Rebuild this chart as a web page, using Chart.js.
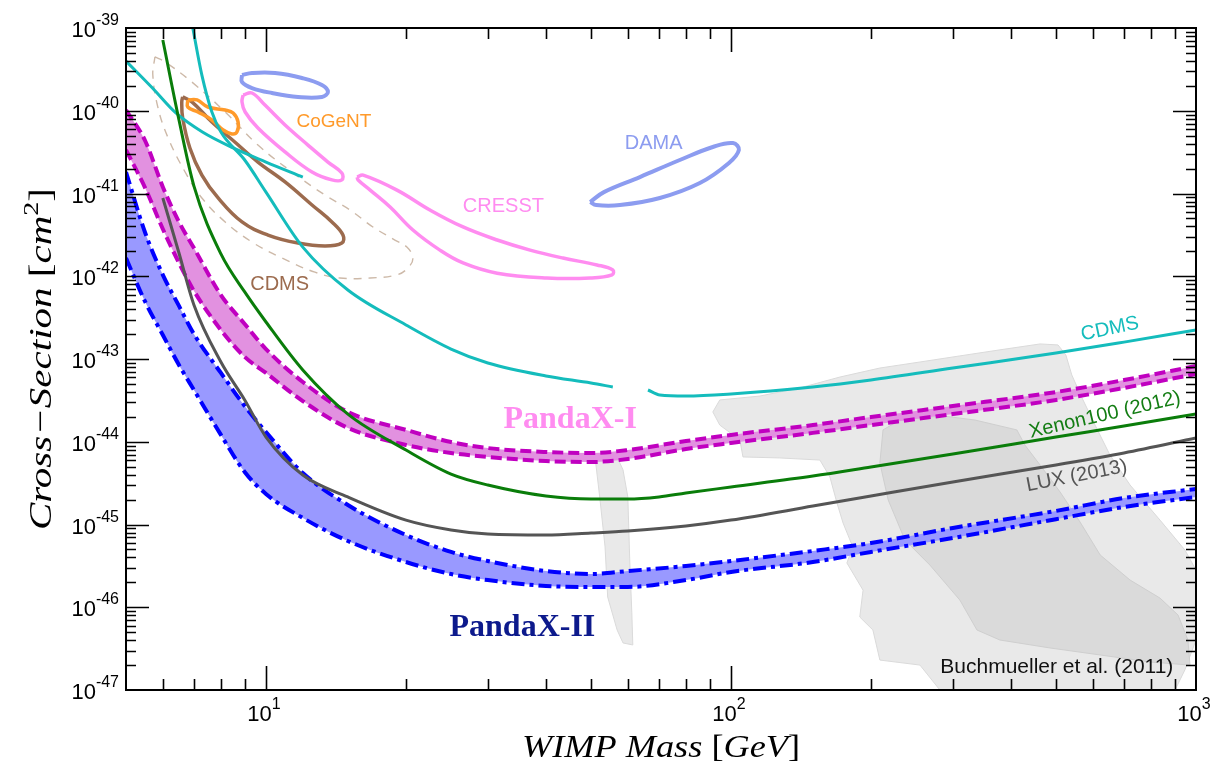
<!DOCTYPE html>
<html>
<head>
<meta charset="utf-8">
<title>PandaX-II WIMP limits</title>
<script src="https://cdn.jsdelivr.net/npm/chart.js@4.4.0/dist/chart.umd.min.js"></script>
<style>
  html, body { margin: 0; padding: 0; background: #fff; }
  canvas { display: block; }
</style>
</head>
<body>
<canvas id="myChart" width="1211" height="765"></canvas>
<script>
// mass grid (GeV) shared by both PandaX bands
var bandMass = [5, 5.5, 6, 6.5, 7, 8, 9, 10, 12, 15, 20, 25, 30, 40, 50, 60, 80, 100, 150, 200, 300, 500, 700, 1000];
var pandax2Upper = [1.82e-41, 3.33e-42, 1.04e-42, 4.38e-43, 2.00e-43, 6.78e-44, 2.70e-44, 1.31e-44, 4.19e-45, 1.72e-45, 7.46e-46, 4.66e-46, 3.62e-46, 2.74e-46, 2.52e-46, 2.74e-46, 3.15e-46, 3.62e-46, 4.79e-46, 5.97e-46, 9.08e-46, 1.46e-45, 2.09e-45, 2.69e-45];
var pandax2Lower = [1.66e-42, 4.89e-43, 1.95e-43, 8.45e-44, 4.22e-44, 1.21e-44, 4.31e-45, 2.34e-45, 1.20e-45, 6.32e-46, 3.52e-46, 2.52e-46, 2.13e-46, 1.81e-46, 1.76e-46, 1.76e-46, 2.13e-46, 2.67e-46, 3.52e-46, 4.66e-46, 6.87e-46, 1.16e-45, 1.63e-45, 2.15e-45];
var pandax1Upper = [1.02e-40, 4.31e-41, 1.20e-41, 4.53e-42, 2.19e-42, 5.93e-43, 2.65e-43, 1.32e-43, 5.27e-44, 2.29e-44, 1.39e-44, 9.93e-45, 8.39e-45, 7.52e-45, 7.31e-45, 7.94e-45, 1.02e-44, 1.21e-44, 1.59e-44, 1.99e-44, 2.70e-44, 3.99e-44, 5.57e-44, 8.22e-44];
var pandax1Lower = [3.36e-41, 1.16e-41, 3.72e-42, 1.45e-42, 6.64e-43, 2.24e-43, 1.06e-43, 6.78e-44, 3.10e-44, 1.47e-44, 9.14e-45, 7.31e-45, 6.55e-45, 5.85e-45, 5.69e-45, 6.19e-45, 8.17e-45, 9.66e-45, 1.28e-44, 1.59e-44, 2.16e-44, 3.20e-44, 4.47e-44, 6.59e-44];

// other experiments
var xenonMass = [6, 6.5, 7, 8, 9, 10, 12, 15, 20, 25, 30, 40, 50, 60, 70, 80, 100, 150, 200, 300, 500, 700, 1000];
var xenonSigma = [7.16e-40, 7.73e-41, 1.23e-41, 1.86e-42, 6.46e-43, 2.80e-43, 7.36e-44, 2.16e-44, 7.94e-45, 4.07e-45, 3.00e-45, 2.21e-45, 2.03e-45, 2.03e-45, 2.15e-45, 2.40e-45, 2.84e-45, 3.85e-45, 4.95e-45, 7.11e-45, 1.14e-44, 1.55e-44, 2.16e-44];
var luxMass = [6, 6.5, 7, 8, 9, 10, 12, 15, 20, 25, 30, 40, 50, 60, 80, 100, 150, 200, 300, 500, 700, 1000];
var luxSigma = [8.83e-42, 1.91e-42, 4.50e-43, 9.20e-44, 3.20e-44, 1.14e-44, 3.96e-45, 2.15e-45, 1.13e-45, 8.59e-46, 7.67e-46, 7.46e-46, 7.89e-46, 8.34e-46, 9.59e-46, 1.13e-45, 1.67e-45, 2.21e-45, 3.27e-45, 5.24e-45, 7.31e-45, 1.11e-44];
var cdmsMass = [6.96, 7.28, 7.65, 8, 9, 10, 12, 15, 20, 25, 30, 40, 50, 55.7, 60, 66.3, 70.3, 80, 100, 150, 200, 300, 500, 700, 1000];
var cdmsSigma = [1.0e-39, 2.70e-40, 9.66e-41, 5.53e-41, 2.54e-41, 1.04e-41, 2.25e-42, 6.82e-43, 2.58e-43, 1.32e-43, 8.95e-44, 6.24e-44, 5.13e-44, 4.59e-44, null, 4.22e-44, 3.67e-44, 3.57e-44, 3.78e-44, 4.59e-44, 5.57e-44, 7.78e-44, 1.18e-43, 1.60e-43, 2.24e-43];
var cdmsLowMass = [5, 5.7, 6.4, 7.3, 8.5, 10, 12];
var cdmsLowSigma = [3.99e-40, 1.88e-40, 9.4e-41, 5.53e-41, 3.55e-41, 2.40e-41, 1.58e-41];

// signal regions (closed contours)
var cdmsSiMass = [6.62, 6.93, 7.65, 8.57, 9.61, 10.99, 12.56, 13.86, 14.64, 14.56, 13.39, 11.72, 10.10, 8.88, 7.89, 7.28, 6.86, 6.62, 6.59, 6.62];
var cdmsSiSigma = [1.47e-40, 1.28e-40, 7.31e-41, 4.19e-41, 2.40e-41, 1.38e-41, 7.26e-42, 4.53e-42, 3.15e-42, 2.52e-42, 2.32e-42, 2.52e-42, 3.15e-42, 4.53e-42, 8.83e-42, 1.67e-41, 3.55e-41, 8.17e-41, 1.28e-40, 1.47e-40];
var cdms90Mass = [5.77, 6.07, 6.93, 8.17, 9.61, 11.37, 13.39, 15.16, 16.98, 18.93, 20.09, 20.70, 20.19, 19.13, 16.75, 14.42, 12.74, 10.82, 9.33, 8.17, 7.28, 6.70, 6.16, 5.86, 5.71, 5.77];
var cdms90Sigma = [4.47e-40, 3.88e-40, 2.22e-40, 9.66e-41, 3.85e-41, 1.82e-41, 9.59e-42, 6.32e-42, 3.94e-42, 2.74e-42, 2.25e-42, 1.66e-42, 1.26e-42, 1.04e-42, 9.53e-43, 9.53e-43, 1.12e-42, 1.66e-42, 2.59e-42, 4.53e-42, 8.83e-42, 1.82e-41, 4.69e-41, 1.08e-40, 2.70e-40, 4.47e-40];
var cogentMass = [6.79, 7.11, 7.50, 8.17, 8.50, 8.71, 8.66, 8.45, 8.09, 7.65, 7.14, 6.79, 6.79];
var cogentSigma = [1.35e-40, 1.35e-40, 1.11e-40, 1.02e-40, 9.40e-41, 7.31e-41, 5.53e-41, 5.24e-41, 5.85e-41, 7.73e-41, 9.66e-41, 1.11e-40, 1.35e-40];
var damaNaMass = [8.88, 9.33, 10.46, 11.95, 13.19, 13.59, 13.19, 11.72, 10.30, 9.33, 8.88, 8.88];
var damaNaSigma = [2.70e-40, 2.86e-40, 2.86e-40, 2.49e-40, 2.05e-40, 1.69e-40, 1.47e-40, 1.47e-40, 1.64e-40, 1.88e-40, 2.22e-40, 2.70e-40];
var damaIMass = [49.8, 53.3, 63.7, 77.6, 91.4, 101.0, 104.0, 99.0, 85.7, 70.3, 57.7, 51.3, 49.8];
var damaISigma = [7.89e-42, 1.04e-41, 1.58e-41, 2.54e-41, 3.65e-41, 4.07e-41, 3.36e-41, 2.34e-41, 1.34e-41, 8.83e-42, 7.26e-42, 7.26e-42, 7.89e-42];
var cresst1Mass = [8.93, 9.33, 9.95, 10.99, 12.31, 13.59, 14.56, 14.56, 13.86, 12.56, 10.99, 9.61, 9.02, 8.88, 8.93];
var cresst1Sigma = [1.55e-40, 1.64e-40, 1.17e-40, 6.73e-41, 3.85e-41, 2.40e-41, 1.77e-41, 1.46e-41, 1.46e-41, 1.82e-41, 3.18e-41, 6.19e-41, 9.66e-41, 1.28e-40, 1.55e-40];
var cresst2Mass = [15.70, 16.18, 19.13, 22.52, 26.53, 31.42, 36.98, 43.52, 51.5, 55.7, 55.5, 49.8, 40.19, 31.42, 26.53, 23.66, 20.70, 18.49, 16.75, 15.78, 15.70];
var cresst2Sigma = [1.58e-41, 1.67e-41, 1.10e-41, 6.32e-42, 3.94e-42, 2.74e-42, 2.07e-42, 1.66e-42, 1.37e-42, 1.19e-42, 1.04e-42, 9.53e-43, 9.53e-43, 1.09e-42, 1.45e-42, 2.07e-42, 3.62e-42, 6.87e-42, 1.10e-41, 1.46e-41, 1.58e-41];

// CMSSM regions, Buchmueller et al. (2011)
var susyMass = [91.4, 94.6, 115.4, 140.6, 171.4, 209.0, 254.9, 310.6, 378.6, 462.0, 504.9, 525.0, 540.6, 568.9, 606.7, 653.1, 721.5, 836.8, 946.5, 1000, 1000, 946.5, 901.5, 281.3, 254.9, 209.0, 201.9, 189.2, 192.3, 177.5, 182.8, 174.2, 169.0, 163.2, 155.3, 127.4, 106.1, 104.5, 94.6, 91.4];
var susySigma = [2.29e-44, 3.20e-44, 3.57e-44, 4.47e-44, 6.05e-44, 7.78e-44, 9.20e-44, 1.09e-43, 1.29e-43, 1.52e-43, 1.48e-43, 1.12e-43, 6.41e-44, 3.38e-44, 1.59e-44, 6.92e-45, 3.00e-45, 1.13e-45, 4.92e-46, 2.82e-46, 4.02e-47, 1.75e-47, 1.0e-47, 1.0e-47, 2.00e-47, 2.30e-47, 5.31e-47, 7.62e-47, 1.61e-46, 3.43e-46, 5.35e-46, 1.04e-45, 1.82e-45, 3.75e-45, 6.01e-45, 6.37e-45, 6.55e-45, 1.05e-44, 1.59e-44, 2.29e-44];
var susyCoreMass = [212.3, 230.7, 285.6, 334.8, 411.9, 428.5, 462.0, 510.2, 563.3, 622.3, 721.5, 836.8, 914.9, 960.8, 970.8, 796.2, 622.3, 485.5, 378.6, 338.0, 310.6, 267.7, 236.6, 217.8, 209.0, 212.3];
var susyCoreSigma = [1.39e-44, 1.83e-44, 2.05e-44, 1.83e-44, 1.39e-44, 9.14e-45, 5.24e-45, 2.47e-45, 1.07e-45, 4.28e-46, 2.13e-46, 1.29e-46, 8.05e-47, 4.02e-47, 2.00e-47, 2.18e-47, 2.65e-47, 3.22e-47, 4.02e-47, 5.31e-47, 1.22e-46, 3.24e-46, 6.50e-46, 1.98e-45, 5.53e-45, 1.39e-44];
var susyStripMass = [51.0, 52.2, 53.6, 54.3, 56.9, 58.6, 61.5, 61.2, 60.6, 60.0, 58.6, 56.9, 51.0];
var susyStripSigma = [6.55e-45, 2.15e-45, 5.35e-46, 1.33e-46, 5.31e-47, 3.70e-47, 3.50e-47, 8.53e-47, 3.43e-46, 2.15e-45, 4.56e-45, 6.55e-45, 6.55e-45];

// axis tick labels (powers of ten)
var massExponents = [1, 2, 3];
var sigmaExponents = [-39, -40, -41, -42, -43, -44, -45, -46, -47];

var notes = [
    {text: 'CoGeNT', m: 14.0, s: 7.31e-41, color: '#ff9a2a', font: '19px "Liberation Sans"', rot: 0},
    {text: 'DAMA', m: 68.2, s: 4.07e-41, color: '#8c9cf0', font: '20px "Liberation Sans"', rot: 0},
    {text: 'CRESST', m: 32.4, s: 7.06e-42, color: '#ff8cf0', font: '20px "Liberation Sans"', rot: 0},
    {text: 'CDMS', m: 10.7, s: 8.05e-43, color: '#9c6b4e', font: '20px "Liberation Sans"', rot: 0},
    {text: 'CDMS', m: 653, s: 2.31e-43, color: '#14bcbc', font: '20px "Liberation Sans"', rot: -12},
    {text: 'PandaX-I', m: 45.1, s: 1.83e-44, color: '#ff8cf0', font: 'bold 32px "Liberation Serif"', rot: 0},
    {text: 'Xenon100 (2012)', m: 637, s: 2.10e-44, color: '#137d13', font: '20px "Liberation Sans"', rot: -13},
    {text: 'LUX (2013)', m: 554, s: 3.85e-45, color: '#555555', font: '20px "Liberation Sans"', rot: -11},
    {text: 'PandaX-II', m: 35.6, s: 5.61e-47, color: '#0d1a8c', font: 'bold 32px "Liberation Serif"', rot: 0},
    {text: 'Buchmueller et al. (2011)', m: 502, s: 1.90e-47, color: '#111111', font: '21px "Liberation Sans"', rot: 0}
];

function pts(ms, ss){
    var out = [];
    for (var i = 0; i < ms.length; i++) {
        out.push({x: ms[i], y: ss[i]});
    }
    return out;
}

function lineSet(label, ms, ss, color, width, dash, order){
    return {
        label: label, data: pts(ms, ss), showLine: true,
        borderColor: color, borderWidth: width, borderDash: dash || [],
        fill: false, pointRadius: 0, order: order,
        cubicInterpolationMode: 'monotone'
    };
}

function loopSet(label, ms, ss, color, width, dash, order){
    return {
        label: label, data: pts(ms, ss), showLine: true,
        borderColor: color, borderWidth: width, borderDash: dash || [],
        borderJoinStyle: 'round', fill: false, pointRadius: 0, order: order,
        tension: 0.4
    };
}

function regionSet(label, ms, ss, fillColor, lineColor, order){
    return {
        label: label, data: pts(ms, ss), showLine: true,
        borderColor: lineColor, borderWidth: 1, backgroundColor: fillColor,
        fill: 'shape', pointRadius: 0, order: order, tension: 0
    };
}

var p2up = lineSet('PandaX-II', bandMass, pandax2Upper, '#0000ff', 4, [13, 5, 4, 5], 40);
var p2lo = lineSet('PandaX-II low', bandMass, pandax2Lower, '#0000ff', 4, [13, 5, 4, 5], 41);
p2lo.fill = '-1';
p2lo.backgroundColor = '#9999ff';
var p1up = lineSet('PandaX-I', bandMass, pandax1Upper, '#c000c0', 4, [11, 5], 30);
var p1lo = lineSet('PandaX-I low', bandMass, pandax1Lower, '#c000c0', 4, [11, 5], 31);
p1lo.fill = '-1';
p1lo.backgroundColor = '#e291e0';

// draws a run of text pieces (different fonts / raised parts), centred
function drawRuns(ctx, runs, x, y, width){
    var total = 0;
    runs.forEach(function(r){
        ctx.font = r.font;
        r.w = ctx.measureText(r.t).width;
        total += r.w;
    });
    var sx = width ? width / total : 1;
    ctx.save();
    ctx.translate(x, y);
    ctx.scale(sx, 1);
    ctx.textAlign = 'left';
    ctx.textBaseline = 'alphabetic';
    var cx = -total / 2;
    runs.forEach(function(r){
        ctx.font = r.font;
        ctx.fillText(r.t, cx, r.dy || 0);
        cx += r.w;
    });
    ctx.restore();
}

var frameAndLabels = {
    id: 'frameAndLabels',
    afterDatasetsDraw: function(chart){
        var ctx = chart.ctx;
        var xs = chart.scales.x, ys = chart.scales.y;
        ctx.save();
        ctx.textAlign = 'center';
        ctx.textBaseline = 'middle';
        notes.forEach(function(n){
            ctx.save();
            ctx.translate(xs.getPixelForValue(n.m), ys.getPixelForValue(n.s));
            ctx.rotate(n.rot * Math.PI / 180);
            ctx.font = n.font;
            ctx.fillStyle = n.color;
            ctx.fillText(n.text, 0, 0);
            ctx.restore();
        });
        ctx.restore();
    },
    afterDraw: function(chart){
        var ctx = chart.ctx, a = chart.chartArea;
        var xs = chart.scales.x, ys = chart.scales.y;
        ctx.save();
        ctx.strokeStyle = '#000';
        ctx.fillStyle = '#000';
        ctx.lineWidth = 2;
        ctx.strokeRect(a.left, a.top, a.right - a.left, a.bottom - a.top);

        // inward ticks on all four sides
        ctx.lineWidth = 1.6;
        ctx.beginPath();
        for (var d = 0; d <= 3; d++) {
            for (var k = 1; k <= 9; k++) {
                var m = k * Math.pow(10, d);
                if (m <= 5 || m >= 1000) continue;
                var px = Math.round(xs.getPixelForValue(m)) + 0.5;
                var len = (k == 1) ? 24 : 11;
                ctx.moveTo(px, a.bottom); ctx.lineTo(px, a.bottom - len);
                ctx.moveTo(px, a.top); ctx.lineTo(px, a.top + len);
            }
        }
        for (var e = -47; e < -39; e++) {
            for (var j = 1; j <= 9; j++) {
                var py = Math.round(ys.getPixelForValue(j * Math.pow(10, e))) + 0.5;
                var ln = (j == 1) ? 23 : 10;
                if (j == 1 && e == -47) continue;
                ctx.moveTo(a.left, py); ctx.lineTo(a.left + ln, py);
                ctx.moveTo(a.right, py); ctx.lineTo(a.right - ln, py);
            }
        }
        ctx.stroke();

        // tick labels with raised exponents
        ctx.textBaseline = 'alphabetic';
        ctx.textAlign = 'left';
        var baseFont = '22px "Liberation Sans"', expFont = '16px "Liberation Sans"';
        sigmaExponents.forEach(function(e){
            var py = ys.getPixelForValue(Math.pow(10, e));
            ctx.font = expFont;
            var we = ctx.measureText(String(e)).width;
            ctx.font = baseFont;
            var wb = ctx.measureText('10').width;
            var right = a.left - 7;
            ctx.fillText('10', right - we - wb, py + 9);
            ctx.font = expFont;
            ctx.fillText(String(e), right - we, py - 3);
        });
        massExponents.forEach(function(e){
            var px = xs.getPixelForValue(Math.pow(10, e));
            ctx.font = expFont;
            var we = ctx.measureText(String(e)).width;
            ctx.font = baseFont;
            var wb = ctx.measureText('10').width;
            var left = px - (wb + we) / 2 - 2;
            ctx.fillText('10', left, a.bottom + 31);
            ctx.font = expFont;
            ctx.fillText(String(e), left + wb, a.bottom + 19);
        });

        // axis titles
        var it = 'italic 32px "Liberation Serif"', up = '32px "Liberation Serif"';
        drawRuns(ctx, [
            {t: 'WIMP Mass ', font: it}, {t: '[', font: up},
            {t: 'GeV', font: it}, {t: ']', font: up}
        ], (a.left + a.right) / 2, a.bottom + 67, 278);
        ctx.save();
        ctx.translate(40, (a.top + a.bottom) / 2);
        ctx.rotate(-Math.PI / 2);
        drawRuns(ctx, [
            {t: 'Cross\u2212Section ', font: it}, {t: '[', font: up},
            {t: 'cm', font: it}, {t: '2', font: '22px "Liberation Serif"', dy: -13},
            {t: ']', font: up}
        ], 0, 11, 342);
        ctx.restore();
        ctx.restore();
    }
};

const ctx = document.getElementById('myChart').getContext('2d');
const myChart = new Chart(ctx, {
    type: 'scatter',
    data: {
        datasets: [
            regionSet('CMSSM', susyMass, susySigma, '#e9e9e9', '#dadada', 60),
            regionSet('CMSSM core', susyCoreMass, susyCoreSigma, '#dadada', '#cfcfcf', 59),
            regionSet('CMSSM strip', susyStripMass, susyStripSigma, '#e9e9e9', '#dadada', 58),
            p2up, p2lo, p1up, p1lo,
            loopSet('CDMS 90%', cdms90Mass, cdms90Sigma, '#cdb9a8', 1.4, [8, 7], 22),
            loopSet('CDMS Si', cdmsSiMass, cdmsSiSigma, '#9c6b4e', 3.5, [], 21),
            loopSet('DAMA Na', damaNaMass, damaNaSigma, '#8c9cf0', 4, [], 20),
            loopSet('DAMA I', damaIMass, damaISigma, '#8c9cf0', 4, [], 20),
            loopSet('CRESST 1', cresst1Mass, cresst1Sigma, '#ff8cf0', 3.5, [], 20),
            loopSet('CRESST 2', cresst2Mass, cresst2Sigma, '#ff8cf0', 3.5, [], 20),
            loopSet('CoGeNT', cogentMass, cogentSigma, '#ff9a2a', 3.5, [], 19),
            lineSet('CDMS low', cdmsLowMass, cdmsLowSigma, '#14bcbc', 3, [], 12),
            lineSet('CDMS', cdmsMass, cdmsSigma, '#14bcbc', 3, [], 11),
            lineSet('Xenon100 (2012)', xenonMass, xenonSigma, '#0a7d0a', 3, [], 10),
            lineSet('LUX (2013)', luxMass, luxSigma, '#555555', 3, [], 9)
        ]
    },
    options: {
        responsive: false,
        devicePixelRatio: 1,
        animation: false,
        layout: { padding: { left: 126, right: 15, top: 28, bottom: 75 } },
        scales: {
            x: { type: 'logarithmic', min: 5, max: 1000, display: false },
            y: { type: 'logarithmic', min: 1e-47, max: 1e-39, display: false }
        },
        plugins: {
            legend: { display: false },
            tooltip: { enabled: false }
        }
    },
    plugins: [frameAndLabels]
});
</script>
</body>
</html>
